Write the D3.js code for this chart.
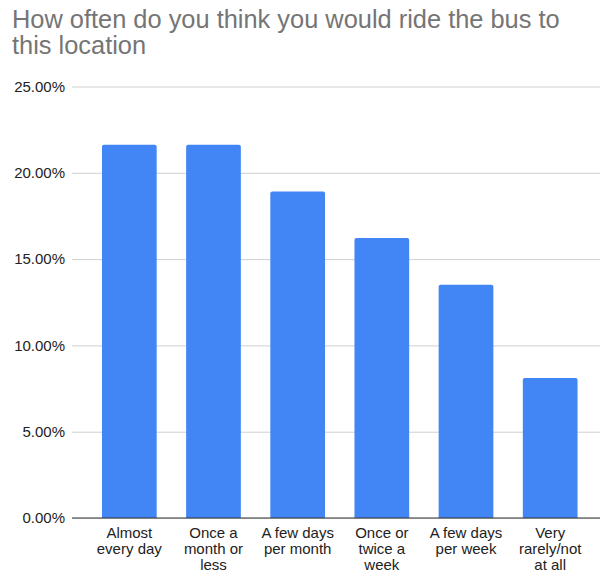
<!DOCTYPE html>
<html>
<head>
<meta charset="utf-8">
<script src="https://cdn.jsdelivr.net/npm/d3@7"></script>
<style>
  html, body { margin: 0; padding: 0; background: #fff; }
  svg { display: block; font-family: "Liberation Sans", Arial, sans-serif; }
</style>
</head>
<body>
<svg id="chart" width="600" height="573"></svg>
<script>
const titleLines = ["How often do you think you would ride the bus to", "this location"];
const categories = ["Almost every day", "Once a month or less", "A few days per month", "Once or twice a week", "A few days per week", "Very rarely/not at all"];
const categoryLines = [["Almost", "every day"], ["Once a", "month or", "less"], ["A few days", "per month"], ["Once or", "twice a", "week"], ["A few days", "per week"], ["Very", "rarely/not", "at all"]];
const values = [0.2162, 0.2162, 0.1892, 0.1622, 0.1351, 0.0811];
const yTicks = [0, 0.05, 0.10, 0.15, 0.20, 0.25];

const svg = d3.select("#chart");

const x = d3.scaleBand().domain(categories).range([72.5, 607]).padding(0.35);
const y = d3.scaleLinear().domain([0, 0.25]).range([518, 86.5]);
const fmt = d3.format(".2%");

// title
svg.append("g").selectAll("text").data(titleLines).join("text")
  .attr("x", 12)
  .attr("y", (d, i) => 28 + i * 26)
  .attr("font-size", 25.4)
  .attr("fill", "#757575")
  .text(d => d);

// gridlines + y labels
const yAxis = d3.axisLeft(y).tickValues(yTicks).tickFormat(fmt).tickSize(-(600 - 72)).tickPadding(7);
const gy = svg.append("g").attr("transform", "translate(72,0)").call(yAxis);
gy.select(".domain").remove();
gy.selectAll(".tick line").attr("stroke", "#d0d0d0").attr("stroke-width", 1);
gy.selectAll(".tick text").attr("font-size", 15).attr("fill", "#222").attr("font-family", "Liberation Sans, Arial, sans-serif");

// bars
svg.append("g").selectAll("path").data(values).join("path")
  .attr("fill", "#4285f4")
  .attr("d", (d, i) => {
    const x0 = x(categories[i]), w = x.bandwidth(), y0 = y(d), y1 = y(0), r = 2;
    return `M${x0},${y1}V${y0 + r}Q${x0},${y0} ${x0 + r},${y0}H${x0 + w - r}Q${x0 + w},${y0} ${x0 + w},${y0 + r}V${y1}Z`;
  });

// baseline
svg.append("line")
  .attr("x1", 72).attr("x2", 600)
  .attr("y1", y(0)).attr("y2", y(0))
  .attr("stroke", "#333").attr("stroke-width", 1.2);

// x labels
const gx = svg.append("g");
categories.forEach((c, i) => {
  const cx = x(c) + x.bandwidth() / 2;
  const t = gx.append("text")
    .attr("x", cx)
    .attr("y", 538)
    .attr("text-anchor", "middle")
    .attr("font-size", 15)
    .attr("fill", "#222");
  categoryLines[i].forEach((ln, j) => {
    t.append("tspan").attr("x", cx).attr("y", 538 + j * 16).text(ln);
  });
});
</script>
</body>
</html>
